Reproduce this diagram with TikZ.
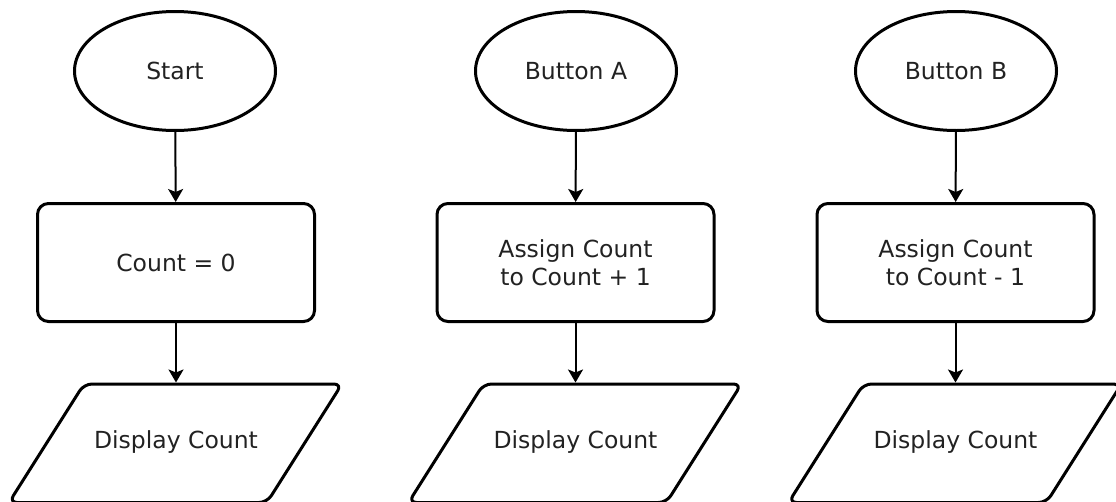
\documentclass[tikz,border=0pt]{standalone}
\usepackage{fontspec}
\setmainfont{DejaVu Sans}
\usetikzlibrary{calc,arrows.meta,shapes.geometric}
\definecolor{ink}{HTML}{222222}
\tikzset{
  base/.style={draw=black, line width=3pt, fill=white, text=ink, inner sep=0pt,
    font=\fontsize{23.5}{28.5}\selectfont, align=center},
  terminal/.style={base, ellipse, minimum width=201pt, minimum height=119pt},
  process/.style={base, rectangle, rounded corners=11pt, minimum width=277pt, minimum height=118pt},
  iotext/.style={base, draw=none, fill=none, rectangle, minimum width=258pt, minimum height=116pt},
  ioshape/.style={draw=black, line width=3pt, fill=white, rounded corners=8pt, line join=round},
  flow/.style={draw=black, line width=2pt, -{Stealth[length=13pt,width=15pt,inset=3pt]}}
}
% parallelogram (data) box drawn around a named text node
\newcommand{\dataframe}[1]{%
  \draw[ioshape] ($(#1)+(-92,-58)$) -- ($(#1)+(166,-58)$) -- ($(#1)+(91,60.5)$)
    -- ($(#1)+(-167,60.5)$) -- cycle;}
\begin{document}
\begin{tikzpicture}[x=1pt,y=-1pt]
  \useasboundingbox (0,0) rectangle (1116,501);
  \clip (0,0) rectangle (1116,501);

  % left column: initialisation
  \node[terminal] (start) at (175,71) {Start};
  \node[process]  (init)  at (176,262.5) {Count = 0};
  \coordinate (pA) at (176,442);
  \dataframe{pA}
  \node[iotext]   (showA) at (pA) {Display Count};

  % middle column: increment on button A
  \node[terminal] (btnA) at (576,71) {Button A};
  \node[process]  (inc)  at (575.5,262.5) {Assign Count\\to Count + 1};
  \coordinate (pB) at (575.5,442);
  \dataframe{pB}
  \node[iotext]   (showB) at (pB) {Display Count};

  % right column: decrement on button B
  \node[terminal] (btnB) at (956,71) {Button B};
  \node[process]  (dec)  at (955.5,262.5) {Assign Count\\to Count - 1};
  \coordinate (pC) at (955.5,442);
  \dataframe{pC}
  \node[iotext]   (showC) at (pC) {Display Count};

  \draw[flow] (start) -- (init);
  \draw[flow] (init)  -- (showA);
  \draw[flow] (btnA)  -- (inc);
  \draw[flow] (inc)   -- (showB);
  \draw[flow] (btnB)  -- (dec);
  \draw[flow] (dec)   -- (showC);
\end{tikzpicture}
\end{document}
